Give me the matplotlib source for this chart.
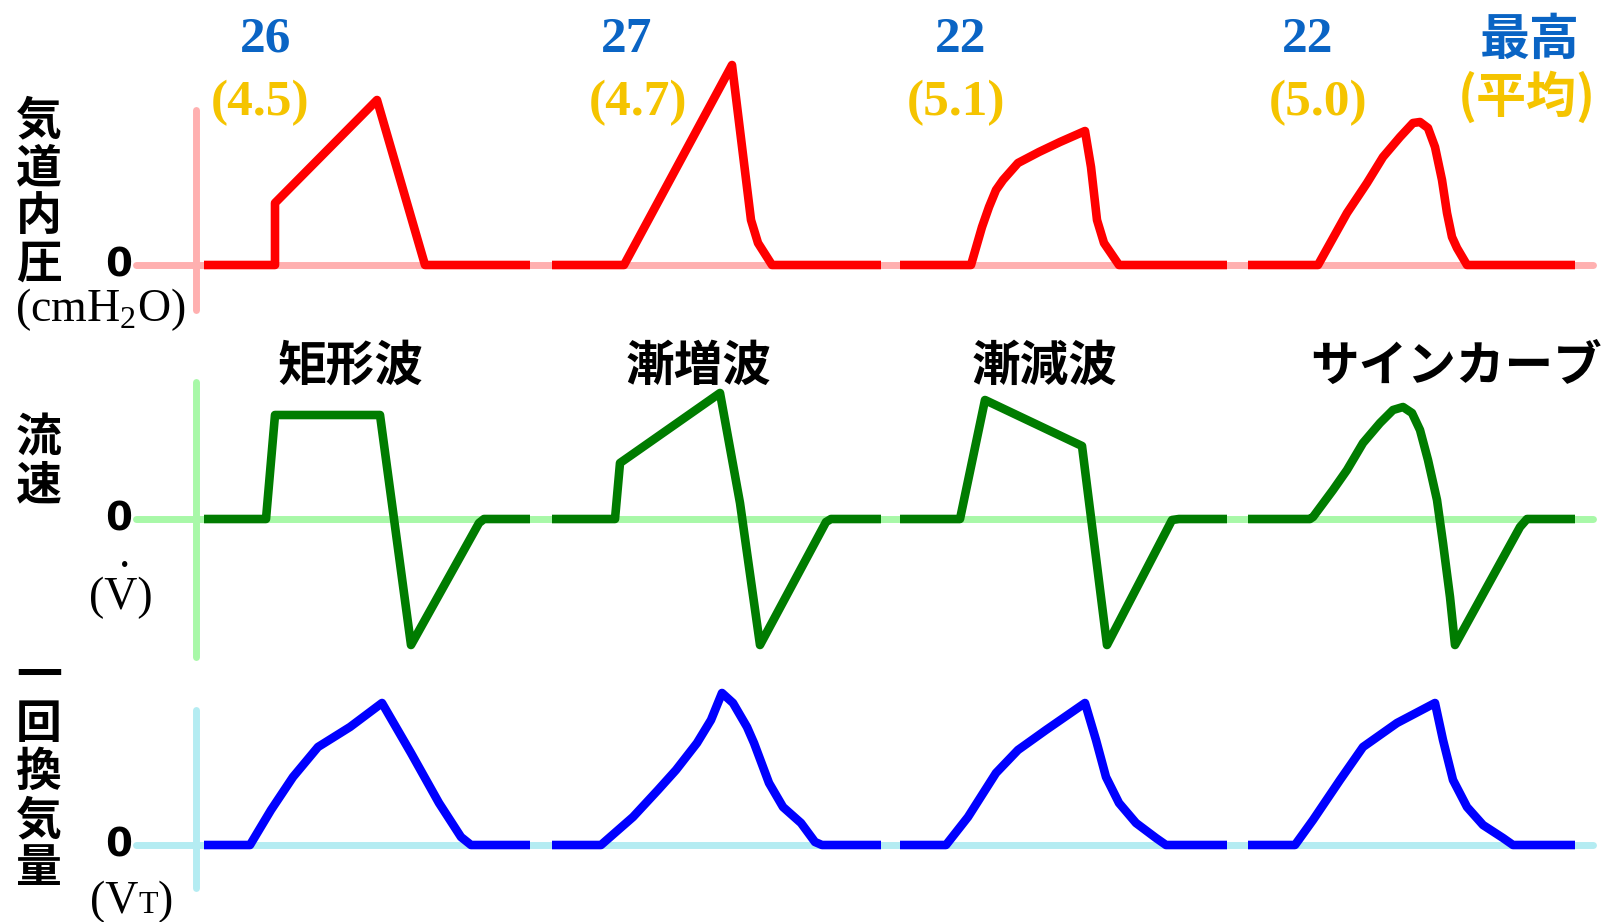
import numpy as np
import matplotlib.pyplot as plt

plt.rcParams['font.family'] = ['Noto Sans CJK JP', 'DejaVu Sans']
plt.rcParams['mathtext.fontset'] = 'custom'
plt.rcParams['mathtext.rm'] = 'Liberation Serif'

# inspiratory flow patterns
wave_names = ["矩形波", "漸増波", "漸減波", "サインカーブ"]
peak_press = ["26", "27", "22", "22"]
mean_press = ["(4.5)", "(4.7)", "(5.1)", "(5.0)"]

# airway pressure, one breath per pattern
press_t = [
    [0, 71, 71, 173, 221, 326],
    [0, 72, 180, 199, 206, 220, 329],
    [0, 71, 82, 89, 96, 103, 118, 139, 160, 185, 191, 197, 204, 219, 327],
    [0, 70, 99, 119, 135, 152, 165, 172, 180, 187, 194, 199, 204, 209, 219, 327],
]
press_v = [
    [0, 0, 62, 165, 0, 0],
    [0, 0, 200, 45, 22, 0, 0],
    [0, 0, 38, 58, 75, 85, 102, 113, 123, 134, 98, 45, 22, 0, 0],
    [0, 0, 52, 82, 108, 128, 142, 143, 137, 118, 85, 52, 28, 17, 0, 0],
]

# flow
flow_t = [
    [0, 62, 71, 176, 207, 275, 280, 326],
    [0, 63, 68, 168, 188, 208, 274, 279, 329],
    [0, 60, 85, 182, 207, 272, 279, 327],
    [0, 62, 65, 85, 99, 115, 132, 145, 155, 164, 172, 180, 189, 195, 202, 207, 272, 279, 327],
]
flow_v = [
    [0, 0, 104, 104, -126, -4, 0, 0],
    [0, 0, 56, 126, 16, -126, -3, 0, 0],
    [0, 0, 119, 73, -126, -1, 0, 0],
    [0, 0, 2, 29, 49, 76, 96, 109, 112, 106, 89, 59, 19, -24, -78, -126, -8, 0, 0],
]

# tidal volume
vol_t = [
    [0, 46, 67, 89, 114, 146, 178, 207, 235, 257, 267, 326],
    [0, 49, 81, 106, 124, 145, 159, 170, 181, 195, 202, 217, 231, 249, 263, 270, 329],
    [0, 46, 68, 96, 118, 146, 185, 196, 206, 219, 236, 256, 266, 327],
    [0, 47, 65, 92, 115, 149, 187, 195, 205, 219, 235, 255, 265, 327],
]
vol_v = [
    [0, 0, 35, 68, 98, 118, 142, 92, 42, 8, 0, 0],
    [0, 0, 28, 55, 75, 102, 125, 152, 142, 118, 102, 62, 38, 22, 3, 0, 0],
    [0, 0, 28, 72, 95, 115, 142, 105, 68, 42, 22, 7, 0, 0],
    [0, 0, 25, 65, 98, 122, 142, 105, 65, 38, 20, 7, 0, 0],
]

row_names = ["気道内圧", "流速", "一回換気量"]
row_t = [press_t, flow_t, vol_t]
row_v = [press_v, flow_v, vol_v]
line_col = ["#ff0000", "#007c00", "#0000ff"]
axis_col = ["#ffb0b0", "#a8f8a8", "#b4ecf2"]
base_y = [265, 519, 845]
vaxis = [(110, 310), (382, 657), (710, 888)]
name_y0 = [121, 438, 677]

x0 = 204
step = 348
yaxis_x = 196

fig = plt.figure(figsize=(16.04, 9.22), dpi=100)
ax = fig.add_axes([0, 0, 1, 1])
ax.set_xlim(0, 1604)
ax.set_ylim(922, 0)
ax.axis('off')

for r in range(3):
    b = base_y[r]
    ax.plot([136, 1593], [b, b], color=axis_col[r], lw=5, solid_capstyle='round', zorder=1)
    ax.plot([yaxis_x, yaxis_x], vaxis[r], color=axis_col[r], lw=5, solid_capstyle='round', zorder=1)
    for i in range(4):
        t = np.array(row_t[r][i]) + x0 + i * step
        v = b - np.array(row_v[r][i])
        ax.plot(t, v, color=line_col[r], lw=6.2, solid_capstyle='butt',
                solid_joinstyle='round', zorder=3)
    # zero label
    ax.text(119, b, "0", ha='center', va='center', fontsize=28,
            family='DejaVu Sans', fontweight='bold')
    # vertical row name
    for k, ch in enumerate(row_names[r]):
        ax.text(39, name_y0[r] + k * 48, ch, ha='center', va='center',
                fontsize=33, fontweight='bold')

# units
serif = dict(family='Liberation Serif', fontsize=33)
ax.text(100, 310, r"(cmH$_2$O)", ha='center', va='center', **serif)
ax.text(121, 598, "(V)", ha='center', va='center', **serif)
ax.text(125, 556, ".", ha='center', va='center', **serif)
t1 = ax.text(90, 913, "(V", ha='left', va='baseline', **serif)
t2 = ax.annotate("T", xy=(1, 913), xycoords=(t1, 'data'), ha='left',
                 va='baseline', family='Liberation Serif', fontsize=23)
ax.annotate(")", xy=(1, 913), xycoords=(t2, 'data'), ha='left',
            va='baseline', **serif)

# pattern titles
title_x = [350, 699, 1045, 1456]
for i in range(4):
    ax.text(title_x[i], 366, wave_names[i], ha='center', va='center',
            fontsize=35, fontweight='bold', color='black')

# peak (mean) pressure labels
peak_x = [266, 627, 961, 1308]
mean_x = [260, 638, 956, 1318]
for i in range(4):
    ax.text(peak_x[i], 40, peak_press[i], ha='center', va='center',
            family='Liberation Serif', fontweight='bold', fontsize=37, color='#0a64c4')
    ax.text(mean_x[i], 103, mean_press[i], ha='center', va='center',
            family='Liberation Serif', fontweight='bold', fontsize=37, color='#f5c400')
ax.text(1530, 40, "最高", ha='center', va='center', fontsize=36,
        fontweight='bold', color='#0a64c4')
ax.text(1527, 98, "(平均)", ha='center', va='center', fontsize=36,
        fontweight='bold', color='#f5c400')

plt.savefig("out.png", dpi=100)
